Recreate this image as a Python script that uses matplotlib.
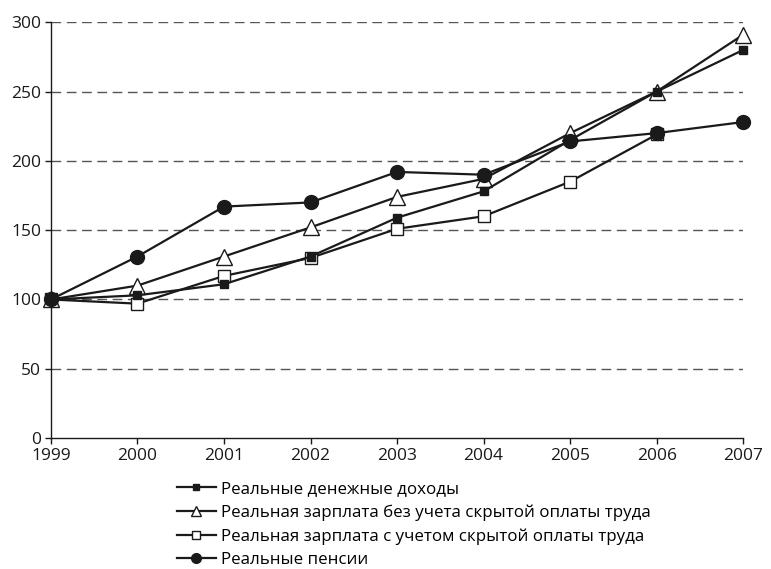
import numpy as np
import matplotlib.pyplot as plt

years = [1999, 2000, 2001, 2002, 2003, 2004, 2005, 2006, 2007]

incomes = [100, 103, 111, 131, 159, 178, 215, 250, 280]
wage_no_hidden = [100, 110, 131, 152, 174, 187, 220, 250, 291]
wage_hidden = [100, 97, 117, 130, 151, 160, 185, 219, np.nan]
pensions = [100, 131, 167, 170, 192, 190, 214, 220, 228]

labels = [
    'Реальные денежные доходы',
    'Реальная зарплата без учета скрытой оплаты труда',
    'Реальная зарплата с учетом скрытой оплаты труда',
    'Реальные пенсии',
]

plt.rcParams['font.family'] = ['Open Sans', 'DejaVu Sans']

fig = plt.figure(figsize=(7.71, 5.69), dpi=100)
ax = fig.add_axes([0.066, 0.230, 0.898, 0.731])

lw = 1.6
l3, = ax.plot(years, wage_hidden, color='#1a1a1a', lw=lw, marker='s', ms=9,
              mfc='white', mec='#1a1a1a', mew=1.0, zorder=3)
l2, = ax.plot(years, wage_no_hidden, color='#1a1a1a', lw=lw, marker='^', ms=11,
              mfc='white', mec='#1a1a1a', mew=1.0, zorder=4)
l1, = ax.plot(years, incomes, color='#1a1a1a', lw=lw, marker='s', ms=6,
              mfc='#1a1a1a', mec='#1a1a1a', zorder=5)
l4, = ax.plot(years, pensions, color='#1a1a1a', lw=lw, marker='o', ms=10,
              mfc='#1a1a1a', mec='#1a1a1a', zorder=6)

ax.set_xlim(1999, 2007)
ax.set_ylim(0, 300)
ax.set_xticks(years)
ax.set_yticks(range(0, 301, 50))
for y in range(50, 301, 50):
    ax.axhline(y, color='#555555', lw=1.0, dashes=(7, 4), zorder=1)

for s in ['top', 'right']:
    ax.spines[s].set_visible(False)
for s in ['left', 'bottom']:
    ax.spines[s].set_color('#1a1a1a')
    ax.spines[s].set_linewidth(1.0)
ax.spines['left'].set_zorder(7)
ax.tick_params(axis='both', labelsize=12.5, colors='#1a1a1a', length=4, width=1.0, pad=3)
for l in (l1, l2, l3, l4):
    l.set_clip_on(False)

fig.legend([l1, l2, l3, l4], labels, loc='upper left',
           bbox_to_anchor=(0.229, 0.154), frameon=False, fontsize=12.2,
           handlelength=2.35, handletextpad=0.25, labelspacing=0.42,
           borderpad=0, borderaxespad=0, markerscale=0.7)

plt.savefig('out.png', dpi=100)
